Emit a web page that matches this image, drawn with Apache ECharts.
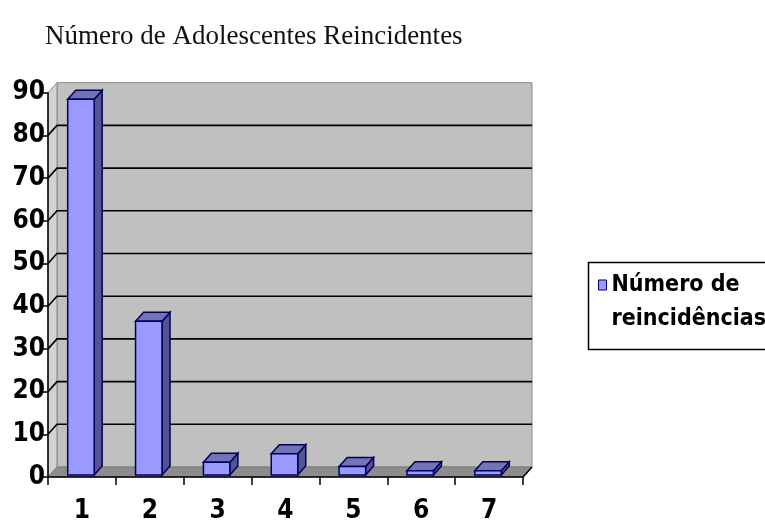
<!DOCTYPE html>
<html><head><meta charset="utf-8">
<script src="https://cdn.jsdelivr.net/npm/echarts/dist/echarts.min.js"></script>
<style>html,body{margin:0;padding:0;background:#fff}#c{width:765px;height:524px}</style>
</head><body><div id="c"></div>
<script>
const titleText = 'Número de Adolescentes Reincidentes';
const seriesName = 'Número de reincidências';
const categories = ['1', '2', '3', '4', '5', '6', '7'];
const values = [88, 36, 3, 5, 2, 1, 1];
const yTicks = [0, 10, 20, 30, 40, 50, 60, 70, 80, 90];

const yMax = yTicks[yTicks.length - 1];
const DX = 9, DY = -10;          // wall depth offset (px)
const BX = 8, BY = -9;           // bar depth offset (px)
const labelFont = '"DejaVu Sans Condensed", "DejaVu Sans", sans-serif';

function renderWalls(params, api) {
  const cs = params.coordSys;
  const x0 = cs.x, x1 = cs.x + cs.width;
  const yb = api.coord([0, 0])[1];
  const yt = api.coord([0, yMax])[1];
  const ch = [];
  ch.push({type: 'rect', shape: {x: x0 + DX, y: yt + DY, width: x1 - x0, height: yb - yt},
    style: {fill: '#c0c0c0', stroke: '#8a8a8a', lineWidth: 1}});
  ch.push({type: 'polygon', shape: {points: [[x0, yt], [x0 + DX, yt + DY], [x0 + DX, yb + DY], [x0, yb]]},
    style: {fill: '#d2d2d2', stroke: '#8a8a8a', lineWidth: 1}});
  ch.push({type: 'polygon', shape: {points: [[x0, yb], [x0 + DX, yb + DY], [x1 + DX, yb + DY], [x1, yb]]},
    style: {fill: '#8c8c8c', stroke: '#7a7a7a', lineWidth: 1}});
  yTicks.forEach(function (t) {
    if (t === 0 || t === yMax) return;
    const y = api.coord([0, t])[1];
    ch.push({type: 'polyline', shape: {points: [[x0, y], [x0 + DX, y + DY], [x1 + DX, y + DY]]},
      style: {stroke: '#000', lineWidth: 1.6, fill: null}});
  });
  ch.push({type: 'line', shape: {x1: x1, y1: yb, x2: x1 + DX, y2: yb + DY},
    style: {stroke: '#000', lineWidth: 1.5}});
  return {type: 'group', children: ch};
}

function renderBar(params, api) {
  const c = api.value(0), v = api.value(1);
  const p0 = api.coord([c, 0]), p1 = api.coord([c, v]);
  const bw = api.size([1, 0])[0] * 0.39;
  const ox = -1, oy = -2;
  const xl = p0[0] - bw / 2 + ox, xr = xl + bw, yb = p0[1] + oy, yt = p1[1] + oy;
  const stroke = '#00005a', lw = 1.5;
  return {type: 'group', children: [
    {type: 'polygon', shape: {points: [[xr, yt], [xr + BX, yt + BY], [xr + BX, yb + BY], [xr, yb]]},
      style: {fill: '#545490', stroke: stroke, lineWidth: lw}},
    {type: 'polygon', shape: {points: [[xl, yt], [xl + BX, yt + BY], [xr + BX, yt + BY], [xr, yt]]},
      style: {fill: '#7373b8', stroke: stroke, lineWidth: lw}},
    {type: 'rect', shape: {x: xl, y: yt, width: bw, height: yb - yt},
      style: {fill: '#9999ff', stroke: stroke, lineWidth: lw}}
  ]};
}

const chart = echarts.init(document.getElementById('c'), null, {renderer: 'canvas'});
chart.setOption({
  animation: false,
  backgroundColor: '#fff',
  title: {text: titleText, left: 40, top: 18,
    textStyle: {fontFamily: 'Liberation Serif', fontWeight: 'normal', fontSize: 27, color: '#111'}},
  grid: {left: 48, right: 242, top: 92.7, bottom: 47, containLabel: false},
  xAxis: {type: 'category', data: categories, z: 5,
    axisLine: {lineStyle: {color: '#000', width: 1.5}},
    axisTick: {show: true, length: 8, interval: 0, lineStyle: {color: '#000', width: 1.5}},
    axisLabel: {margin: 21, fontFamily: labelFont, fontWeight: 'bold', fontSize: 26, color: '#000'},
    splitLine: {show: false}},
  yAxis: {type: 'value', min: 0, max: yMax, interval: 10, z: 5,
    axisLine: {show: true, lineStyle: {color: '#000', width: 1.5}},
    axisTick: {show: true, length: 7, lineStyle: {color: '#000', width: 1.5}},
    axisLabel: {margin: 3, fontFamily: labelFont, fontWeight: 'bold', fontSize: 26, color: '#000'},
    splitLine: {show: false}},
  legend: {data: [seriesName], left: 598, top: 234, orient: 'vertical', padding: 0,
    icon: 'rect', itemWidth: 8, itemHeight: 10, selectedMode: false,
    itemStyle: {color: '#9999ff', borderColor: '#00005a', borderWidth: 1},
    formatter: function (n) { return '\n' + n.replace(' reinc', '\nreinc'); },
    textStyle: {fontFamily: labelFont, fontWeight: 'bold', fontSize: 23, lineHeight: 34, color: '#000'}},
  graphic: [{type: 'rect', left: 586, top: 260, shape: {width: 200, height: 87},
    style: {fill: 'none', stroke: '#000', lineWidth: 1.5}, silent: true}],
  series: [
    {type: 'custom', name: 'walls', renderItem: renderWalls, data: [[0, 0]], z: 1, silent: true},
    {type: 'custom', name: seriesName, renderItem: renderBar, z: 2,
      itemStyle: {color: '#9999ff'},
      data: values.map(function (v, i) { return [i, v]; })}
  ]
});
</script></body></html>
